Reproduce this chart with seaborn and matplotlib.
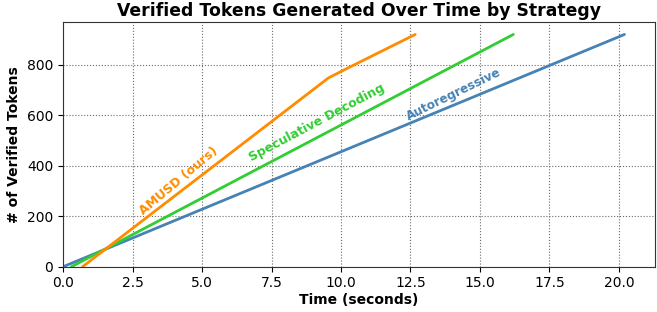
import pandas as pd
import matplotlib.pyplot as plt
import seaborn as sns

ar_time = [0.0, 20.2]
ar_tokens = [0, 920]
sd_time = [0.3, 16.2]
sd_tokens = [0, 920]
amusd_time = [0.7, 9.55, 10.3, 12.67]
amusd_tokens = [0, 748, 790, 920]

df = pd.concat([
    pd.DataFrame({"Time": ar_time, "Tokens": ar_tokens, "Strategy": "Autoregressive"}),
    pd.DataFrame({"Time": sd_time, "Tokens": sd_tokens, "Strategy": "Speculative Decoding"}),
    pd.DataFrame({"Time": amusd_time, "Tokens": amusd_tokens, "Strategy": "AMUSD (ours)"}),
])

colors = {"Autoregressive": "steelblue", "Speculative Decoding": "limegreen", "AMUSD (ours)": "darkorange"}

sns.set_style("ticks", {"text.color": "black", "axes.labelcolor": "black",
                        "xtick.color": "black", "ytick.color": "black",
                        "axes.edgecolor": "#333333"})
fig, ax = plt.subplots(figsize=(6.57, 3.12), dpi=100)
sns.lineplot(data=df, x="Time", y="Tokens", hue="Strategy", palette=colors,
             linewidth=2, legend=False, ax=ax, sort=False)

ax.text(4.16, 340, "AMUSD (ours)", color="darkorange", rotation=40, fontsize=9,
        fontweight="bold", ha="center", va="center")
ax.text(9.15, 570, "Speculative Decoding", color="limegreen", rotation=28, fontsize=9,
        fontweight="bold", ha="center", va="center")
ax.text(14.06, 681, "Autoregressive", color="steelblue", rotation=26, fontsize=8.7,
        fontweight="bold", ha="center", va="center")

ax.set_xlim(0, 21.3)
ax.set_ylim(0, 970)
ax.set_xticks([0, 2.5, 5, 7.5, 10, 12.5, 15, 17.5, 20])
ax.grid(True, linestyle=":", color="dimgray", linewidth=0.8)
ax.set_title("Verified Tokens Generated Over Time by Strategy", fontsize=12.4, fontweight="bold", pad=4)
ax.set_xlabel("Time (seconds)", fontsize=10, fontweight="bold", labelpad=2)
ax.set_ylabel("# of Verified Tokens", fontsize=10, fontweight="bold")
ax.tick_params(labelsize=10)

plt.subplots_adjust(left=0.096, right=0.997, top=0.93, bottom=0.145)
plt.savefig("out.png", dpi=100)
